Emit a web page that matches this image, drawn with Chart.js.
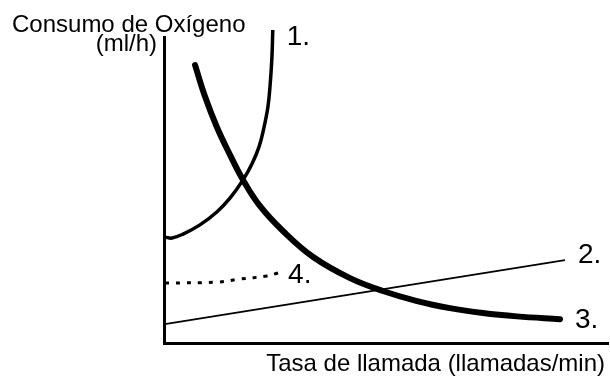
<!DOCTYPE html>
<html>
<head>
<meta charset="utf-8">
<script src="https://cdn.jsdelivr.net/npm/chart.js@4/dist/chart.umd.min.js"></script>
<style>
  body { margin: 0; background: #fff; }
</style>
</head>
<body>
<canvas id="oxigeno" width="610" height="376"></canvas>
<script>
// curve labels and axis captions
var seriesLabels = ['1.', '2.', '3.', '4.'];
var yTitle = ['Consumo de Oxígeno', '(ml/h)'];
var xTitle = 'Tasa de llamada (llamadas/min)';

// 1. rises steeply with call rate
var curve1 = [
  {x: 0.2, y: 34.6}, {x: 1.8, y: 34.3}, {x: 4.3, y: 35.6}, {x: 8.1, y: 38.6},
  {x: 11.9, y: 42.8}, {x: 14.9, y: 47.4}, {x: 17.8, y: 53.3}, {x: 19.8, y: 58.5},
  {x: 21.4, y: 64.1}, {x: 22.5, y: 70.3}, {x: 23.4, y: 77.1}, {x: 23.9, y: 84.3},
  {x: 24.3, y: 93.1}, {x: 24.5, y: 102.3}
];
// 2. straight line, slow increase
var curve2 = [{x: 0.2, y: 6.2}, {x: 90.3, y: 27.1}];
// 3. falls off and levels out
var curve3 = [
  {x: 7.0, y: 90.8}, {x: 9.2, y: 80.7}, {x: 11.9, y: 70.6}, {x: 14.9, y: 61.4},
  {x: 17.8, y: 53.3}, {x: 21.6, y: 44.8}, {x: 26.8, y: 36.6}, {x: 33.6, y: 28.1},
  {x: 41.9, y: 21.2}, {x: 49.3, y: 17.0}, {x: 57.0, y: 13.7}, {x: 64.4, y: 11.4},
  {x: 71.8, y: 9.8}, {x: 79.5, y: 8.7}, {x: 89.2, y: 7.8}
];
// 4. dotted, short stretch only
var curve4 = [
  {x: 0.2, y: 19.6}, {x: 11.9, y: 19.9}, {x: 17.1, y: 20.9}, {x: 23.2, y: 21.9}, {x: 25.7, y: 22.9}
];

// where each number sits relative to the end of its curve
var labelOffsets = [[14, 15], [13, 3], [15, 9], [10, 10]];

var textFont = '"Liberation Sans", Arial, sans-serif';

var captions = {
  id: 'captions',
  afterDatasetsDraw: function(chart) {
    var ctx = chart.ctx;
    var xs = chart.scales.x, ys = chart.scales.y;
    ctx.save();
    ctx.fillStyle = '#000';
    ctx.textBaseline = 'alphabetic';

    ctx.font = '28px ' + textFont;
    ctx.textAlign = 'left';
    chart.data.datasets.forEach(function(ds, i) {
      var last = ds.data[ds.data.length - 1];
      ctx.fillText(seriesLabels[i],
        xs.getPixelForValue(last.x) + labelOffsets[i][0],
        ys.getPixelForValue(last.y) + labelOffsets[i][1]);
    });

    ctx.font = '24px ' + textFont;
    ctx.fillText(yTitle[0], 12, 32);
    ctx.textAlign = 'right';
    ctx.fillText(yTitle[1], chart.chartArea.left - 7, 51);
    ctx.fillText(xTitle, 605, 371);
    ctx.restore();
  }
};

var ctx = document.getElementById('oxigeno').getContext('2d');
var myChart = new Chart(ctx, {
  type: 'line',
  data: {
    datasets: [
      {data: curve1, borderColor: '#000', borderWidth: 3.5, tension: 0.4},
      {data: curve2, borderColor: '#000', borderWidth: 1.8, tension: 0},
      {data: curve3, borderColor: '#000', borderWidth: 6, tension: 0.4, borderCapStyle: 'round'},
      {data: curve4, borderColor: '#000', borderWidth: 3, tension: 0.4, borderDash: [4, 7]}
    ]
  },
  options: {
    responsive: false,
    animation: false,
    layout: {padding: {left: 164, right: 2, top: 37, bottom: 33}},
    elements: {point: {radius: 0}},
    datasets: {line: {clip: false, fill: false}},
    plugins: {legend: {display: false}, tooltip: {enabled: false}},
    scales: {
      x: {
        type: 'linear', min: 0, max: 100,
        grid: {display: false, drawTicks: false},
        ticks: {display: false},
        border: {display: true, width: 3, color: '#000'}
      },
      y: {
        type: 'linear', min: 0, max: 100,
        grid: {display: false, drawTicks: false},
        ticks: {display: false},
        border: {display: true, width: 3, color: '#000'}
      }
    }
  },
  plugins: [captions]
});
</script>
</body>
</html>
